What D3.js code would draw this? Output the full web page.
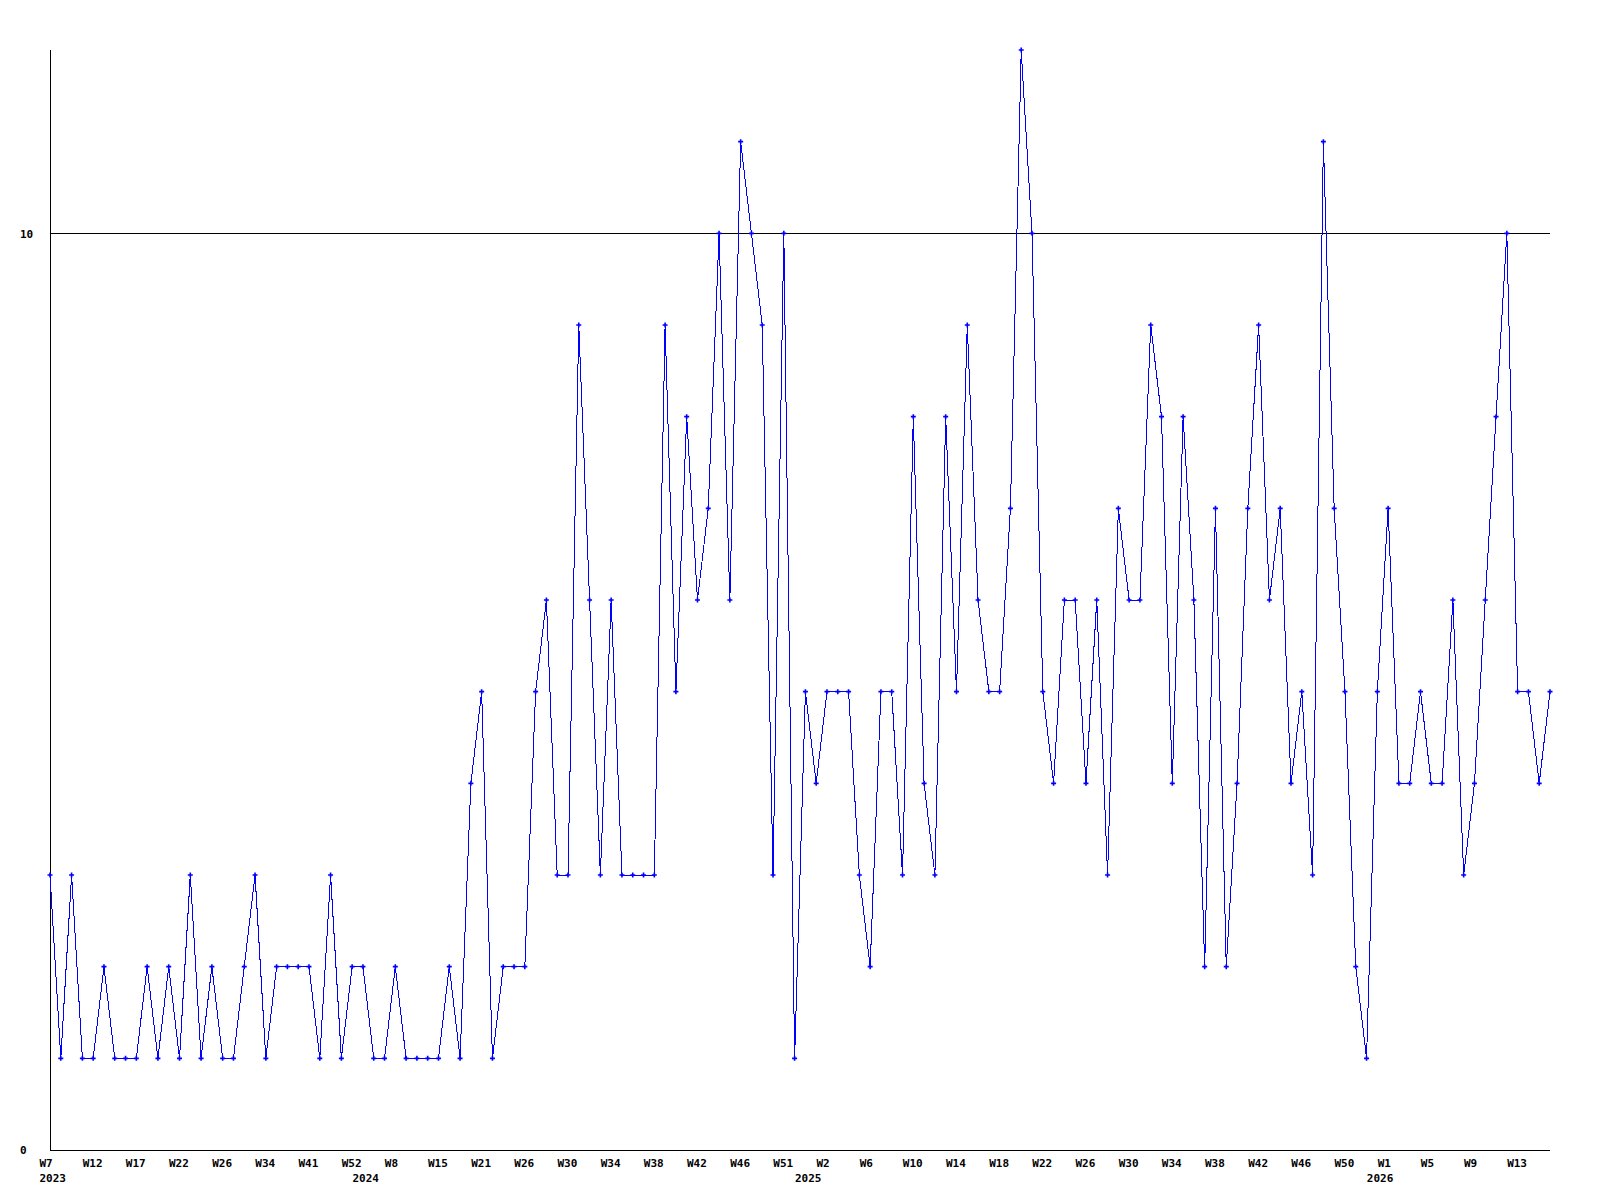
<!DOCTYPE html>
<html>
<head>
<meta charset="utf-8">
<script src="https://cdn.jsdelivr.net/npm/d3@7"></script>
<style>
  html, body { margin: 0; padding: 0; background: #ffffff; }
  svg text { font-family: "DejaVu Sans Mono", "Liberation Mono", monospace; font-weight: bold; font-size: 11px; fill: #000; }
</style>
</head>
<body>
<svg id="chart" width="1600" height="1200"></svg>
<script>
// ---- data ----
const years = [2023, 2024, 2025, 2026];
const weeks2023 = [7,8,9,10,12,13,14,16,17,18,19,21,22,23,24,25,26,28,30,32,34,36,38,39,41,44,47,50,52];
const weeks2024 = [1,3,6,8,10,12,13,15,17,18,20,21,22,24,25,26,27,28,29,30,31,32,33,34,35,36,37,38,39,40,41,42,43,44,45,46,47,49,50,51,52];
const weeks2025 = [0,1,2,3,4,5,6,7,8,9,10,11,12,13,14,15,16,17,18,19,20,21,22,23,24,25,26,27,28,29,30,31,32,33,34,35,36,37,38,39,40,41,42,43,44,45,46,47,48,49,50,51,52];
const weeks2026 = [0,1,2,3,4,5,6,7,8,9,10,11,12,13,14,15,16];
const values = [
  3,1,3,1,1,2,1,1,1,2, 1,2,1,3,1,2,1,1,2,3, 1,2,2,2,2,1,3,1,2,2, 1,1,2,1,1,1,1,2,1,
  4,5,1,2,2,2,5,6,3,3, 9,6,3,6,3,3,3,3,9,5,
  8,6,7,10,6,11,10,9,3,10, 1,5,4,5,5,5,3,2,5,5, 3,8,4,3,8,5,9,6,5,5,
  7,12,10,5,4,6,6,4,6,3, 7,6,6,9,8,4,8,6,2,7, 2,4,7,9,6,7,4,5,3,11,
  7,5,2,1,5,7,4,4,5,4, 4,6,3,4,6,8,10,5,5,4, 5
];
const yTicks = [0, 10];
const labelEvery = 4;

// ---- build categories ----
const weekLists = [weeks2023, weeks2024, weeks2025, weeks2026];
const cats = [];
weekLists.forEach((wl, yi) => wl.forEach((w, k) => cats.push({ year: years[yi], week: w, first: k === 0 })));
const data = values.map((v, i) => ({ i, v, cat: cats[i] }));

// ---- layout ----
const svg = d3.select("#chart");
const x = d3.scaleLinear().domain([0, data.length - 1]).range([50, 1550]);
const y = d3.scaleLinear().domain([0, 12]).range([1150, 50]);

// axes lines
svg.append("line").attr("x1", x(0)).attr("x2", x(0)).attr("y1", y(12)).attr("y2", y(0))
  .attr("stroke", "#000").attr("stroke-width", 1).attr("shape-rendering", "crispEdges");
yTicks.forEach(t => {
  svg.append("line").attr("x1", x(0)).attr("x2", x(data.length - 1)).attr("y1", y(t)).attr("y2", y(t))
    .attr("stroke", "#000").attr("stroke-width", 1).attr("shape-rendering", "crispEdges");
});

const styleText = sel => sel
  .style("font-family", "'DejaVu Sans Mono', monospace").style("font-weight", "bold")
  .style("font-size", "11px").attr("fill", "#000");

// y axis labels
const yAxis = d3.axisLeft(y).tickValues(yTicks).tickSize(0).tickPadding(0).tickFormat(d3.format("d"));
const gy = svg.append("g").attr("transform", "translate(20,0)").call(yAxis);
gy.select(".domain").remove();
gy.selectAll("text").attr("text-anchor", "start").attr("dy", "0.35em").call(styleText);

// x axis week labels
const tickIdx = data.filter(d => d.i % labelEvery === 0).map(d => d.i);
const xAxis = d3.axisBottom(x).tickValues(tickIdx).tickSize(0).tickPadding(0)
  .tickFormat(i => "W" + cats[i].week);
const gx = svg.append("g").attr("transform", "translate(-11,1159)").call(xAxis);
gx.select(".domain").remove();
gx.selectAll("text").attr("text-anchor", "start").attr("dy", "0.71em").call(styleText);

// x axis year labels
const yearIdx = data.filter(d => d.cat.first).map(d => d.i);
const xYear = d3.axisBottom(x).tickValues(yearIdx).tickSize(0).tickPadding(0)
  .tickFormat(i => String(cats[i].year));
const gyr = svg.append("g").attr("transform", "translate(-11,1174)").call(xYear);
gyr.select(".domain").remove();
gyr.selectAll("text").attr("text-anchor", "start").attr("dy", "0.71em").call(styleText);

// line
const line = d3.line().x(d => x(d.i)).y(d => y(d.v));
svg.append("path").datum(data).attr("d", line)
  .attr("fill", "none").attr("stroke", "#0000ff").attr("stroke-width", 1)
  .attr("shape-rendering", "crispEdges");

// markers (+)
svg.append("g").selectAll("path").data(data).join("path")
  .attr("transform", d => `translate(${x(d.i)},${y(d.v)})`)
  .attr("d", "M-2.5,0H2.5M0,-2.5V2.5")
  .attr("stroke", "#0000ff").attr("stroke-width", 1.6).attr("fill", "none");
</script>
</body>
</html>
